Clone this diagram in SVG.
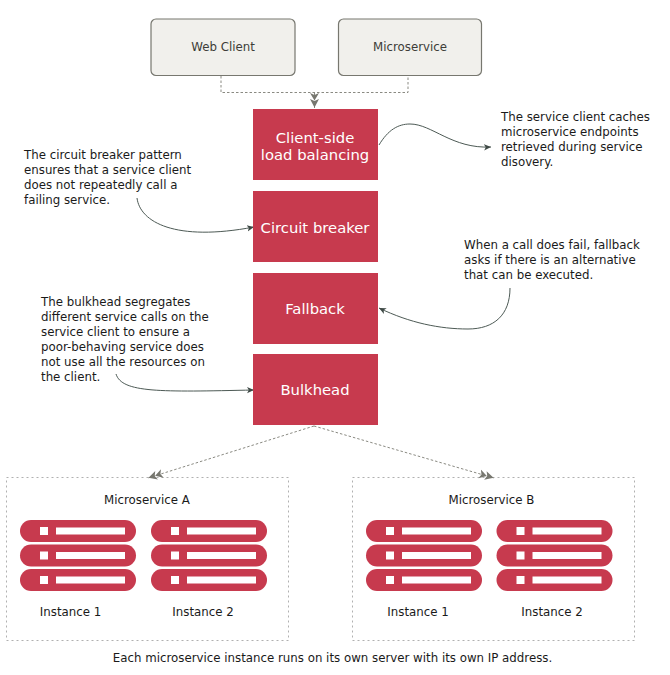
<svg xmlns="http://www.w3.org/2000/svg" width="670" height="675" viewBox="0 0 670 675">
<style>
text{font-family:"DejaVu Sans",Verdana,sans-serif;font-size:11.8px;fill:#1a1a1a}
.mid{text-anchor:middle}
.client{fill:#f1f0ec;stroke:#77776f;stroke-width:1.2}
.client-t{fill:#3d3d38}
.red{fill:#c73a4e}
.red-t{fill:#fff;font-size:14.8px;text-anchor:middle}
.box{fill:#fff;stroke:#b0b0b0;stroke-width:1;stroke-dasharray:2 3}
.dash{fill:none;stroke:#8a8a82;stroke-width:1;stroke-dasharray:2.5 2}
.cv{fill:none;stroke:#4d5a55;stroke-width:1}
.srv{fill:#c73a4e}
.wh{fill:#fff}
</style>
<defs>
<marker id="dbl" viewBox="0 0 16 10" refX="15" refY="5" markerWidth="16" markerHeight="10" markerUnits="userSpaceOnUse" orient="auto"><path d="M0 .5 L7.500 5 L0 9.500 L2 5Z M6 .5 L14.500 5 L6 9.500 L8 5Z" fill="#77776f"/></marker>
<marker id="arr" viewBox="0 0 8 8" refX="7" refY="4" markerWidth="8" markerHeight="8" markerUnits="userSpaceOnUse" orient="auto"><path d="M0 .8 L7 4 L0 7.2 L1.8 4Z" fill="#3f4a46"/></marker>
<g id="server">
<rect class="srv" x="0" y="0" width="116" height="22" rx="11"/>
<rect class="wh" x="20" y="7" width="8" height="8"/>
<rect class="wh" x="36" y="7.500" width="69" height="7"/>
</g>
<g id="col"><use href="#server"/><use href="#server" y="24.500"/><use href="#server" y="49"/></g>
</defs>

<g id="microservice-a"><rect class="box" x="6.500" y="477.500" width="282" height="163"/><text class="mid" x="147" y="504">Microservice A</text>
<use href="#col" x="20" y="520"/><use href="#col" x="151" y="520"/>
<text class="mid" x="70.500" y="616">Instance 1</text><text class="mid" x="203" y="616">Instance 2</text></g>
<g id="microservice-b"><rect class="box" x="352.500" y="477.500" width="282" height="163"/><text class="mid" x="491.500" y="504">Microservice B</text>
<use href="#col" x="366" y="520"/><use href="#col" x="496.500" y="520"/>
<text class="mid" x="418" y="616">Instance 1</text><text class="mid" x="552" y="616">Instance 2</text></g>

<g id="connectors">
<path class="dash" d="M221 76V92.500H408V76"/>
<path class="dash" d="M314.500 92.500V108" marker-end="url(#dbl)"/>
<path class="dash" d="M314 426L148 478" marker-end="url(#dbl)"/>
<path class="dash" d="M314 426L494 478" marker-end="url(#dbl)"/>
<path class="cv" d="M379 145C388 130 398 124 410 124C432 124 452 149 491 147" marker-end="url(#arr)"/>
<path class="cv" d="M137 198C140 222 175 242 254 227" marker-end="url(#arr)"/>
<path class="cv" d="M510 288C510 315 494 329 468 329C440 329 410 323 379 308" marker-end="url(#arr)"/>
<path class="cv" d="M116 374C122 393 160 392 254 390" marker-end="url(#arr)"/>
</g>

<g id="web-client"><rect class="client" x="151" y="19" width="144" height="56.500" rx="5"/><text class="mid client-t" x="223" y="51">Web Client</text></g>
<g id="microservice"><rect class="client" x="338.500" y="19" width="143" height="56.500" rx="5"/><text class="mid client-t" x="410" y="51">Microservice</text></g>
<g id="client-side"><rect class="red" x="253" y="109" width="125" height="71"/><text class="red-t" x="315" y="143">Client-side</text><text class="red-t" x="315" y="160">load balancing</text></g>
<g id="circuit-breaker"><rect class="red" x="253" y="191" width="125" height="71"/><text class="red-t" x="315" y="233">Circuit breaker</text></g>
<g id="fallback"><rect class="red" x="253" y="273" width="125" height="71"/><text class="red-t" x="315" y="314">Fallback</text></g>
<g id="bulkhead"><rect class="red" x="253" y="354" width="125" height="71"/><text class="red-t" x="315" y="395">Bulkhead</text></g>

<g id="note-cache"><text x="501" y="121">The service client caches</text><text x="501" y="136">microservice endpoints</text><text x="501" y="151">retrieved during service</text><text x="501" y="166">disovery.</text></g>
<g id="note-circuit"><text x="24" y="159">The circuit breaker pattern</text><text x="24" y="174">ensures that a service client</text><text x="24" y="189">does not repeatedly call a</text><text x="24" y="204">failing service.</text></g>
<g id="note-fallback"><text x="464" y="249">When a call does fail, fallback</text><text x="464" y="264">asks if there is an alternative</text><text x="464" y="279">that can be executed.</text></g>
<g id="note-bulkhead"><text x="41" y="306">The bulkhead segregates</text><text x="41" y="321">different service calls on the</text><text x="41" y="336">service client to ensure a</text><text x="41" y="351">poor-behaving service does</text><text x="41" y="366">not use all the resources on</text><text x="41" y="381">the client.</text></g>
<text class="mid" x="332.500" y="662">Each microservice instance runs on its own server with its own IP address.</text>
</svg>
